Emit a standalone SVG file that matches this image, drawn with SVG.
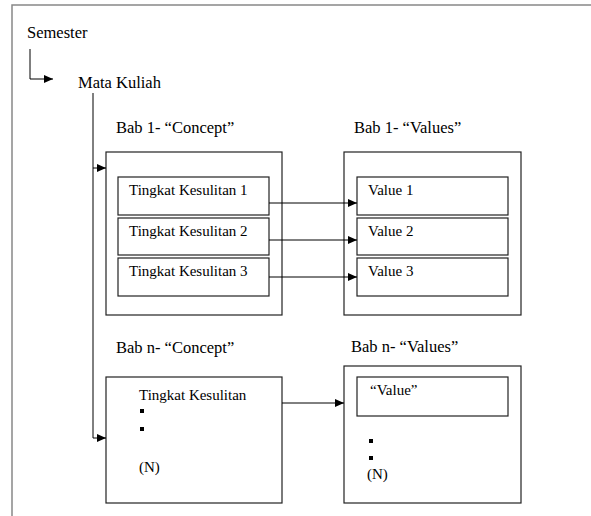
<svg xmlns="http://www.w3.org/2000/svg" width="591" height="516" viewBox="0 0 591 516">
<style>
text{font-family:"Liberation Serif","Times New Roman",serif;font-size:15px;fill:#000}
.lbl{font-size:16.5px}
.box{fill:#fff;stroke:#222;stroke-width:1.2}
.frame{fill:none;stroke:#888;stroke-width:1.5}
.con{fill:none;stroke:#000;stroke-width:1}
.dot{fill:#000}
</style>
<defs>
<marker id="ah" markerWidth="9" markerHeight="8" refX="9" refY="4" orient="auto" markerUnits="userSpaceOnUse">
<path d="M0,0 L9,4 L0,8 Z" fill="#000"/>
</marker>
</defs>
<rect width="591" height="516" fill="#fff"/>
<path class="frame" d="M12,516 L12,5 L591,5"/>
<g id="semester"><text class="lbl" x="27" y="38">Semester</text></g>
<g id="mata-kuliah"><text class="lbl" x="78" y="88">Mata Kuliah</text></g>
<g id="label-bab1-concept"><text class="lbl" x="116" y="133">Bab 1- “Concept”</text></g>
<g id="label-bab1-values"><text class="lbl" x="354" y="133">Bab 1- “Values”</text></g>
<g id="bab1-concept">
<rect class="box" x="106" y="152" width="176" height="163"/>
<rect class="box" x="118" y="177" width="151" height="38"/>
<text x="129" y="195">Tingkat Kesulitan 1</text>
<rect class="box" x="118" y="218" width="151" height="37"/>
<text x="129" y="236">Tingkat Kesulitan 2</text>
<rect class="box" x="118" y="258" width="151" height="38"/>
<text x="129" y="276">Tingkat Kesulitan 3</text>
</g>
<g id="bab1-values">
<rect class="box" x="344" y="152" width="177" height="163"/>
<rect class="box" x="357" y="177" width="151" height="38"/>
<text x="368" y="195">Value 1</text>
<rect class="box" x="357" y="218" width="151" height="37"/>
<text x="368" y="236">Value 2</text>
<rect class="box" x="357" y="258" width="151" height="38"/>
<text x="368" y="276">Value 3</text>
</g>
<g id="label-babn-concept"><text class="lbl" x="116" y="353">Bab n- “Concept”</text></g>
<g id="label-babn-values"><text class="lbl" x="351" y="352">Bab n- “Values”</text></g>
<g id="babn-concept">
<rect class="box" x="106" y="377" width="176" height="126"/>
<text x="139" y="400">Tingkat Kesulitan</text>
<rect class="dot" x="140" y="409" width="4" height="4"/>
<rect class="dot" x="140" y="427" width="4" height="4"/>
<text x="139" y="472">(N)</text>
</g>
<g id="babn-values">
<rect class="box" x="344" y="366" width="177" height="137"/>
<rect class="box" x="357" y="377" width="151" height="39"/>
<text x="370" y="395">“Value”</text>
<rect class="dot" x="369" y="439" width="4" height="4"/>
<rect class="dot" x="369" y="456" width="4" height="4"/>
<text x="367" y="479">(N)</text>
</g>
<g id="connectors">
<path class="con" d="M30,49 L30,79 L53,79" marker-end="url(#ah)"/>
<path class="con" d="M93,93 L93,438"/>
<path class="con" d="M93,168 L106,168" marker-end="url(#ah)"/>
<path class="con" d="M93,438 L106,438" marker-end="url(#ah)"/>
<path class="con" d="M269,203 L357,203" marker-end="url(#ah)"/>
<path class="con" d="M269,240 L357,240" marker-end="url(#ah)"/>
<path class="con" d="M269,277 L357,277" marker-end="url(#ah)"/>
<path class="con" d="M282,403 L344,403" marker-end="url(#ah)"/>
</g>
</svg>
